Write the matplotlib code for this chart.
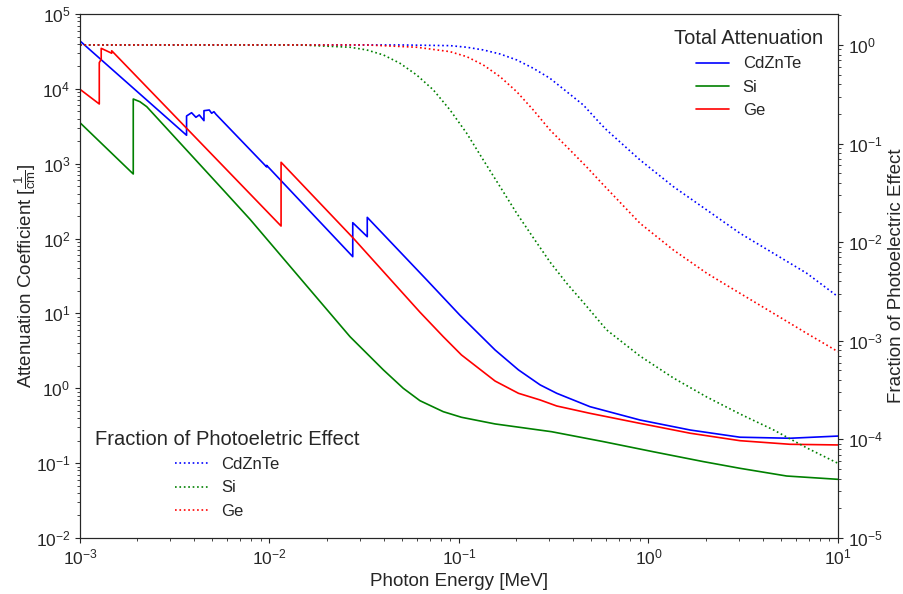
import matplotlib
matplotlib.use('Agg')
import matplotlib.pyplot as plt
import seaborn as sns

sns.set_style('ticks')
plt.rcParams['font.family'] = ['Liberation Sans', 'DejaVu Sans']
plt.rcParams['mathtext.fontset'] = 'custom'
plt.rcParams['mathtext.rm'] = 'Liberation Sans'

# total attenuation [1/cm] vs photon energy [MeV]
E_czt = [1.0e-3, 3.65e-3, 3.65e-3, 3.88e-3, 4.09e-3, 4.26e-3, 4.51e-3, 4.51e-3, 4.81e-3, 4.95e-3,
         5.09e-3, 5.22e-3, 9.66e-3, 9.66e-3, 0.0275, 0.0275, 0.0328, 0.0328, 0.0676, 0.101,
         0.155, 0.206, 0.268, 0.328, 0.491, 0.902, 1.66, 3.04, 5.58, 10.0]
mu_czt = [43600, 2400, 4340, 4800, 4170, 4480, 3760, 5110, 5220, 4720,
          4950, 4570, 905, 950, 57.3, 163, 106, 192, 28.0, 9.5,
          3.25, 1.76, 1.11, 0.857, 0.568, 0.377, 0.277, 0.222, 0.215, 0.230]

E_si = [1.0e-3, 1.91e-3, 1.91e-3, 2.07e-3, 2.25e-3, 5.70e-3, 7.89e-3, 0.01449, 0.0266, 0.0399,
        0.0508, 0.0622, 0.0826, 0.103, 0.155, 0.308, 0.577, 1.06, 1.94, 3.04, 5.36, 10.0]
mu_si = [3530, 729, 7320, 6740, 5780, 446, 181, 29.7, 4.89, 1.76,
         1.0, 0.683, 0.487, 0.410, 0.334, 0.263, 0.194, 0.142, 0.105, 0.0853, 0.0673, 0.0608]

E_ge = [1.0e-3, 1.264e-3, 1.264e-3, 1.294e-3, 1.294e-3, 1.47e-3, 1.47e-3, 0.01151, 0.01151, 0.0277,
        0.0622, 0.0826, 0.103, 0.155, 0.206, 0.268, 0.328, 0.491, 0.902, 1.66, 3.04, 5.58, 10.0]
mu_ge = [9860, 6280, 22400, 24800, 34800, 29900, 32300, 147, 1045, 101,
         10.4, 4.89, 2.79, 1.25, 0.857, 0.698, 0.580, 0.463, 0.340, 0.251, 0.1995, 0.1786, 0.175]

# fraction of photoelectric effect
Ef_czt = [1.0e-3, 0.0488, 0.0897, 0.1098, 0.1343, 0.1646, 0.2016, 0.2466, 0.302, 0.370,
          0.453, 0.555, 0.601, 0.902, 1.352, 2.03, 3.04, 4.56, 6.84, 10.0]
f_czt = [1.0, 1.0, 0.984, 0.948, 0.890, 0.810, 0.705, 0.580, 0.459, 0.336,
         0.246, 0.1606, 0.1374, 0.0682, 0.0366, 0.0212, 0.01231, 0.00772, 0.00484, 0.00280]

Ef_si = [1.0e-3, 0.01449, 0.0266, 0.0326, 0.0399, 0.0488, 0.0598, 0.0732, 0.0897, 0.1098,
         0.1343, 0.1646, 0.2016, 0.2466, 0.302, 0.370, 0.453, 0.601, 0.902, 1.352,
         2.03, 3.04, 4.56, 6.84, 10.0]
f_si = [1.0, 1.0, 0.948, 0.890, 0.792, 0.652, 0.496, 0.350, 0.219, 0.1272,
        0.0682, 0.0366, 0.01964, 0.0111, 0.00630, 0.00383, 0.00245, 0.00129, 7.0e-4, 4.2e-4,
        2.69e-4, 1.81e-4, 1.25e-4, 8.2e-5, 5.72e-5]

Ef_ge = [1.0e-3, 0.0326, 0.0598, 0.0897, 0.1098, 0.1343, 0.1646, 0.2016, 0.2466, 0.302,
         0.385, 0.47, 0.578, 0.902, 1.352, 2.03, 3.04, 4.56, 6.84, 10.0]
f_ge = [1.0, 1.0, 0.948, 0.855, 0.761, 0.627, 0.477, 0.336, 0.219, 0.1374,
        0.0861, 0.0583, 0.0381, 0.01555, 0.00834, 0.00484, 0.00303, 0.00190, 0.00119, 0.000775]

labels = ['CdZnTe', 'Si', 'Ge']
colors = ['blue', 'green', 'red']

fig = plt.figure(figsize=(9.04, 5.94), dpi=100)
ax = fig.add_axes([80/904, 1 - 538/594, 758/904, 524/594])
ax2 = ax.twinx()

totals = [(E_czt, mu_czt), (E_si, mu_si), (E_ge, mu_ge)]
fracs = [(Ef_czt, f_czt), (Ef_si, f_si), (Ef_ge, f_ge)]

for (e, m), lab, c in zip(totals, labels, colors):
    ax.plot(e, m, '-', color=c, lw=1.2, label=lab)
for (e, f), lab, c in zip(fracs, labels, colors):
    ax2.plot(e, f, ':', color=c, lw=1.2, label=lab)

ax.set_xscale('log')
ax.set_yscale('log')
ax2.set_yscale('log')
ax.set_xlim(1e-3, 10)
ax.set_ylim(1e-2, 1e5)
ax2.set_ylim(1e-5, 2.06)

ax.set_xlabel('Photon Energy [MeV]', fontsize=13.5)
ax.set_ylabel(r'Attenuation Coefficient [$\frac{1}{\mathrm{cm}}$]', fontsize=13.5, labelpad=-2)
ax2.set_ylabel('Fraction of Photoelectric Effect', fontsize=13.5)
ax.tick_params(labelsize=12.5)
ax2.tick_params(labelsize=12.5)

leg1 = ax2.legend(*ax.get_legend_handles_labels(), loc='upper right', frameon=False,
                  title='Total Attenuation', fontsize=12, title_fontsize=14.5)
ax2.add_artist(leg1)
ax2.legend(loc='lower left', bbox_to_anchor=(0, 0.008), frameon=False,
           title='Fraction of Photoeletric Effect', fontsize=12, title_fontsize=14.5)

fig.savefig('out.png', dpi=100)
